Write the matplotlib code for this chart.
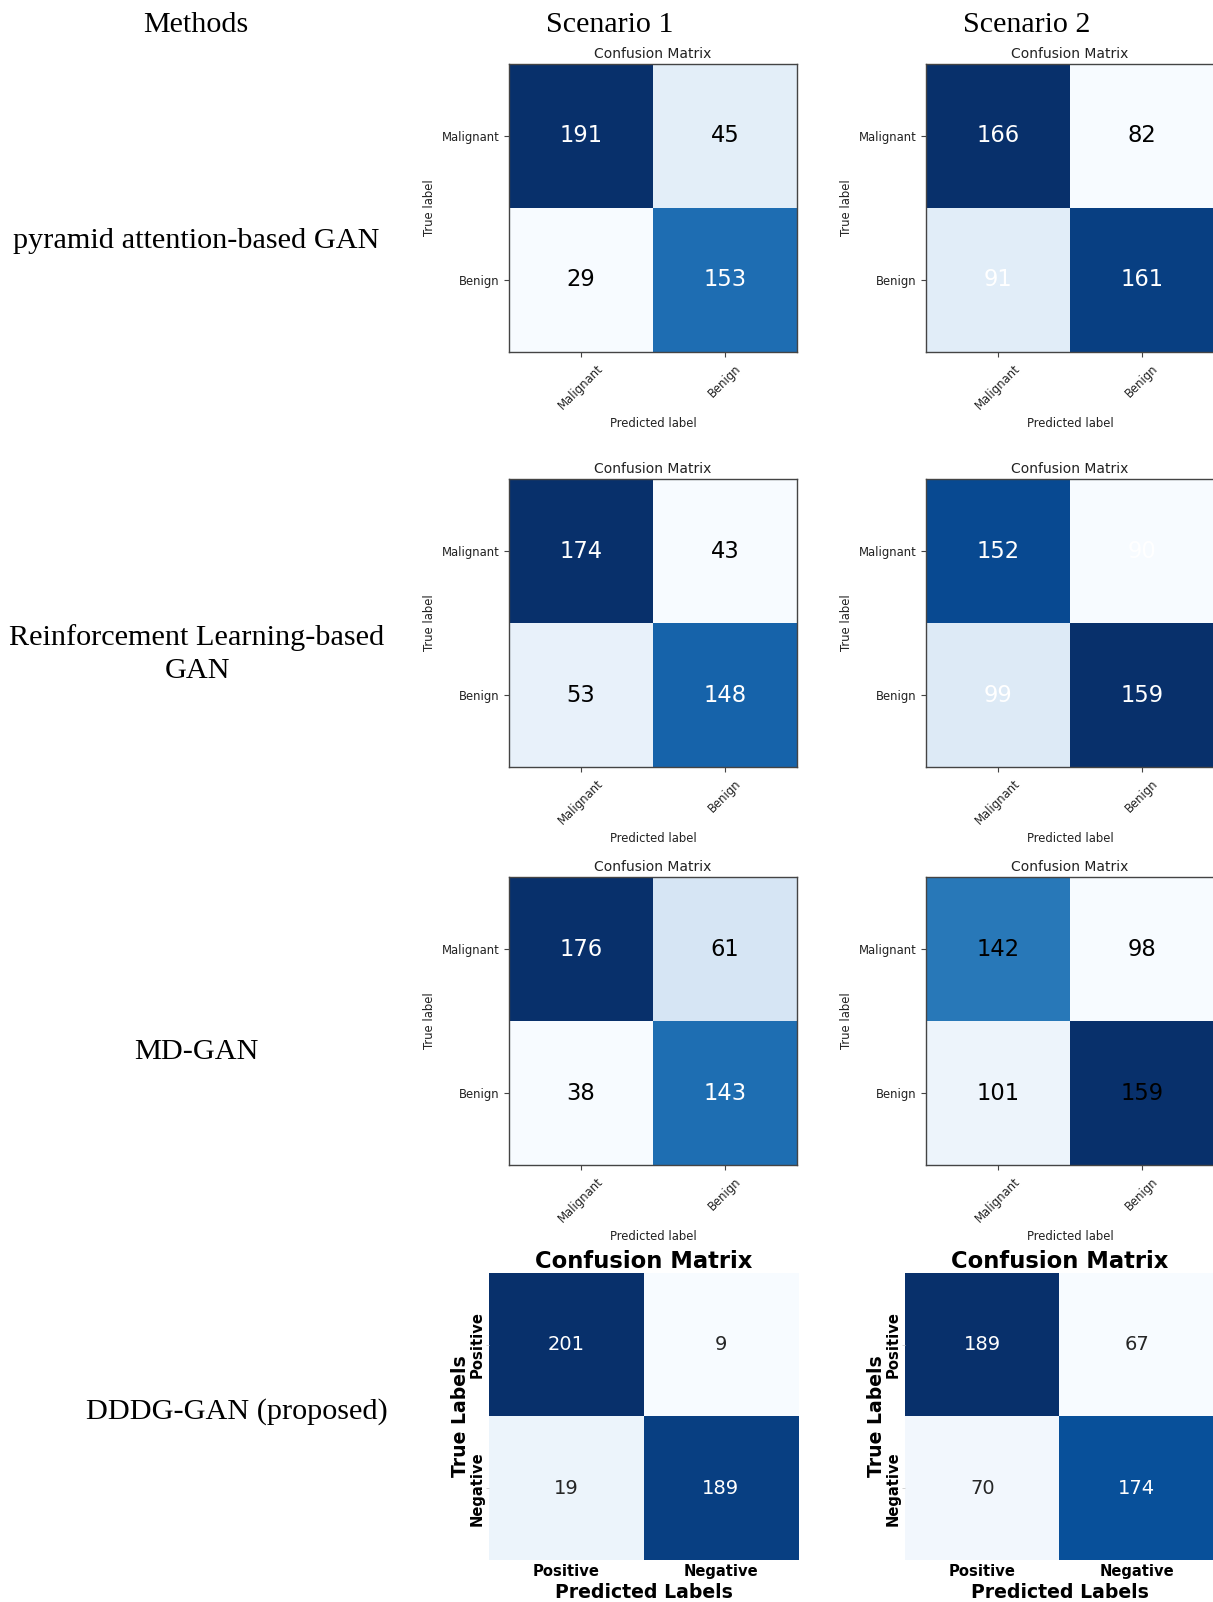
import numpy as np
import matplotlib
matplotlib.use("Agg")
import matplotlib.pyplot as plt
from matplotlib import cm as mcm

# ---- data ---------------------------------------------------------------
methods = [
    "pyramid attention-based GAN",
    "Reinforcement Learning-based\nGAN",
    "MD-GAN",
    "DDDG-GAN (proposed)",
]
scenarios = ["Scenario 1", "Scenario 2"]
class_names = ["Malignant", "Benign"]
proposed_class_names = ["Positive", "Negative"]

pyramid_s1 = [[191, 45], [29, 153]]
pyramid_s2 = [[166, 82], [91, 161]]
rl_s1 = [[174, 43], [53, 148]]
rl_s2 = [[152, 90], [99, 159]]
mdgan_s1 = [[176, 61], [38, 143]]
mdgan_s2 = [[142, 98], [101, 159]]
dddg_s1 = [[201, 9], [19, 189]]
dddg_s2 = [[189, 67], [70, 174]]

# ---- figure ---------------------------------------------------------------
W, H = 1213, 1602
fig = plt.figure(figsize=(W / 100, H / 100), dpi=100)
fig.patch.set_facecolor("white")

SERIF = "Liberation Serif"
CMAP = mcm.get_cmap("Blues")


def px_axes(left, top, width, height):
    return fig.add_axes([left / W, 1 - (top + height) / H, width / W, height / H])


def fig_text(x, y, s, **kw):
    fig.text(x / W, 1 - y / H, s, ha="center", va="center", **kw)


def classic_panel(ax, cm, thresh_frac=0.5):
    cm = np.asarray(cm)
    ax.imshow(cm, cmap=CMAP, interpolation="nearest", aspect="auto")
    ax.set_title("Confusion Matrix", fontsize=10, pad=4, color="#222222")
    ticks = np.arange(len(class_names))
    ax.set_xticks(ticks)
    ax.set_xticklabels(class_names, rotation=45, fontsize=8.4, color="#222222")
    ax.set_yticks(ticks)
    ax.set_yticklabels(class_names, fontsize=8.4, color="#222222")
    ax.tick_params(length=3.5, width=0.8, color="#444444")
    ax.set_ylabel("True label", fontsize=8.4, color="#222222")
    ax.set_xlabel("Predicted label", fontsize=8.4, color="#222222")
    for sp in ax.spines.values():
        sp.set_color("#444444")
        sp.set_linewidth(1.0)
    thresh = cm.max() * thresh_frac
    for i in range(cm.shape[0]):
        for j in range(cm.shape[1]):
            ax.text(j, i, str(cm[i, j]), ha="center", va="center", fontsize=16.3,
                    color="white" if cm[i, j] > thresh else "black")


def luminance(rgba):
    rgb = np.asarray(rgba[:3])
    rgb = np.where(rgb <= 0.03928, rgb / 12.92, ((rgb + 0.055) / 1.055) ** 2.4)
    return 0.2126 * rgb[0] + 0.7152 * rgb[1] + 0.0722 * rgb[2]


def heat_panel(ax, cm):
    cm = np.asarray(cm)
    im = ax.imshow(cm, cmap=CMAP, interpolation="nearest", aspect="auto")
    for sp in ax.spines.values():
        sp.set_visible(False)
    for i in range(cm.shape[0]):
        for j in range(cm.shape[1]):
            rgba = CMAP(im.norm(cm[i, j]))
            col = "#262626" if luminance(rgba) > 0.408 else "white"
            ax.text(j, i, str(cm[i, j]), ha="center", va="center", fontsize=14, color=col)
    ax.set_title("Confusion Matrix", fontsize=16.3, fontweight="bold", pad=2)
    ax.set_xticks([0, 1])
    ax.set_xticklabels(proposed_class_names, fontsize=10.6, fontweight="bold")
    ax.set_yticks([0, 1])
    ax.set_yticklabels(proposed_class_names, rotation=90, va="center",
                       fontsize=10.6, fontweight="bold")
    ax.tick_params(axis="x", length=0, pad=3)
    ax.tick_params(axis="y", length=2, width=0.6, color="#cccccc", pad=1)
    ax.set_xlabel("Predicted Labels", fontsize=13.6, fontweight="bold", labelpad=2.5)
    ax.set_ylabel("True Labels", fontsize=13.6, fontweight="bold", labelpad=0)


# ---- header row -----------------------------------------------------------
fig_text(196, 24.5, "Methods", family=SERIF, fontsize=21.6)
fig_text(610, 24.5, scenarios[0], family=SERIF, fontsize=21.6)
fig_text(1027, 24.5, scenarios[1], family=SERIF, fontsize=21.6)

# ---- method labels --------------------------------------------------------
fig_text(196.5, 241, methods[0], family=SERIF, fontsize=21.8)
fig_text(197, 654, methods[1], family=SERIF, fontsize=21.8, linespacing=1.38)
fig_text(196, 1052, methods[2], family=SERIF, fontsize=21.8)
fig_text(237, 1412, methods[3], family=SERIF, fontsize=21.8)

# ---- classic confusion matrices -------------------------------------------
row_tops = [64, 479, 877]
pairs = [(pyramid_s1, pyramid_s2, 0.5), (rl_s1, rl_s2, 0.5), (mdgan_s1, mdgan_s2, 1.0)]
for top, (m1, m2, t2) in zip(row_tops, pairs):
    classic_panel(px_axes(509, top, 288, 288), m1)
    classic_panel(px_axes(926, top, 288, 288), m2, thresh_frac=t2)

# ---- proposed method heatmaps --------------------------------------------
heat_panel(px_axes(489, 1273, 309, 287), dddg_s1)
heat_panel(px_axes(905, 1273, 309, 287), dddg_s2)

fig.savefig("out.png", dpi=100, facecolor="white")
